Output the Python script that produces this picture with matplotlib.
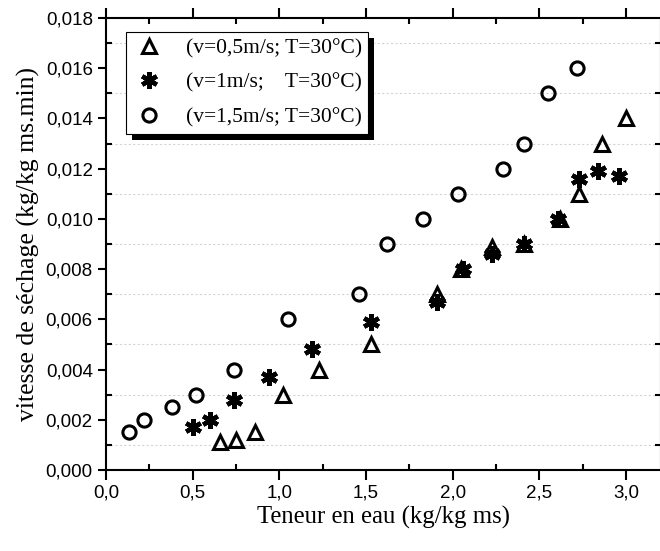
import numpy as np
import matplotlib
matplotlib.use('Agg')
import matplotlib.pyplot as plt
from matplotlib.ticker import MultipleLocator, FuncFormatter
from matplotlib.patches import Rectangle

# v = 0,5 m/s
x_05 = [0.66, 0.75, 0.86, 1.02, 1.23, 1.53, 1.91, 2.05, 2.23, 2.41, 2.62, 2.73, 2.86, 3.00]
y_05 = [0.0011, 0.0012, 0.0015, 0.0030, 0.0040, 0.0050, 0.0070, 0.0080, 0.0089, 0.0090, 0.0100, 0.0110, 0.0130, 0.0140]
# v = 1 m/s
x_1 = [0.50, 0.60, 0.74, 0.94, 1.19, 1.53, 1.91, 2.06, 2.23, 2.41, 2.61, 2.73, 2.84, 2.96]
y_1 = [0.0017, 0.0020, 0.0028, 0.0037, 0.0048, 0.0059, 0.0067, 0.0080, 0.0086, 0.0090, 0.0100, 0.0116, 0.0119, 0.0117]
# v = 1,5 m/s
x_15 = [0.13, 0.22, 0.38, 0.52, 0.74, 1.05, 1.46, 1.62, 1.83, 2.03, 2.29, 2.41, 2.55, 2.72]
y_15 = [0.0015, 0.0020, 0.0025, 0.0030, 0.0040, 0.0060, 0.0070, 0.0090, 0.0100, 0.0110, 0.0120, 0.0130, 0.0150, 0.0160]

labels = ['(v=0,5m/s; T=30°C)', '(v=1m/s;    T=30°C)', '(v=1,5m/s; T=30°C)']

serif = ['Liberation Serif', 'DejaVu Serif']
sans = ['Liberation Sans', 'DejaVu Sans']

fig = plt.figure(figsize=(6.6, 5.51), dpi=100)
ax = fig.add_axes([106 / 660, 1 - 470 / 551, 554.6 / 660, 452 / 551])

star = (6, 2, 0)
ax.plot(x_05, y_05, linestyle='none', marker='^', ms=10, mfc='none', mec='black', mew=2.2, label=labels[0], zorder=3)
ax.plot(x_1, y_1, linestyle='none', marker=star, ms=12, mfc='black', mec='black', mew=3.2, label=labels[1], zorder=3)
ax.plot(x_15, y_15, linestyle='none', marker='o', ms=9.5, mfc='none', mec='black', mew=2.2, label=labels[2], zorder=3)

ax.set_xlim(0, 3.2)
ax.set_ylim(0, 0.018)
ax.xaxis.set_major_locator(MultipleLocator(0.5))
ax.xaxis.set_minor_locator(MultipleLocator(0.25))
ax.yaxis.set_major_locator(MultipleLocator(0.002))
ax.yaxis.set_minor_locator(MultipleLocator(0.001))
ax.xaxis.set_major_formatter(FuncFormatter(lambda v, p: ('%.1f' % v).replace('.', ',')))
ax.yaxis.set_major_formatter(FuncFormatter(lambda v, p: ('%.3f' % v).replace('.', ',')))

ax.yaxis.grid(True, which='minor', linestyle=(0, (2, 2)), color='#d4d4d4', linewidth=0.8)
ax.set_axisbelow(True)

for s in ax.spines.values():
    s.set_linewidth(1.5)

ax.tick_params(axis='both', which='major', labelsize=13.5, width=1.5, length=6, direction='out')
ax.tick_params(axis='both', which='minor', width=1.5, length=4, direction='in')
ax.tick_params(axis='x', which='major', length=7, top=True)
ax.tick_params(axis='y', right=True, which='both')
ax.tick_params(axis='x', which='minor', top=True)
for lab in ax.get_xticklabels() + ax.get_yticklabels():
    lab.set_family(sans)

ax.set_xlabel('Teneur en eau (kg/kg ms)', family=serif, fontsize=17.8, labelpad=3)
ax.set_ylabel('vitesse de séchage (kg/kg ms.min)', family=serif, fontsize=18.5, labelpad=4)

leg = ax.legend(loc='upper left', bbox_to_anchor=(0.036, 0.969), borderaxespad=0,
                prop={'family': serif, 'size': 15.5}, fancybox=False, framealpha=1,
                edgecolor='black', handletextpad=0.9, labelspacing=0.68,
                borderpad=0.28, handlelength=1.6)
leg.get_frame().set_linewidth(0.8)
leg.set_zorder(6)

fig.canvas.draw()
bb = leg.get_window_extent().transformed(fig.transFigure.inverted())
dx, dy = 6 / 660, 6 / 551
shadow = Rectangle((bb.x0 + dx, bb.y0 - dy), bb.width, bb.height, transform=fig.transFigure,
                   facecolor='black', edgecolor='none', zorder=5)
ax.add_artist(shadow)

fig.savefig('out.png', dpi=100)
